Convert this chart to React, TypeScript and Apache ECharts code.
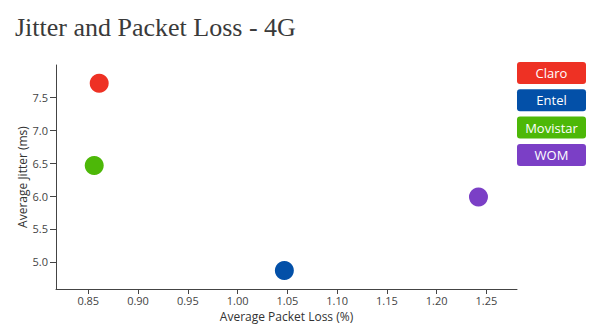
import React, { useEffect, useRef } from "react";
import * as echarts from "echarts";

const operators = ["Claro", "Entel", "Movistar", "WOM"];
const packetLoss = [0.861, 1.047, 0.856, 1.242];
const jitter = [7.72, 4.868, 6.465, 5.985];
const colors = ["#ee3124", "#0350a8", "#4db808", "#7b3fc6"];
const xTicks = [0.85, 0.9, 0.95, 1.0, 1.05, 1.1, 1.15, 1.2, 1.25];
const yTicks = [5.0, 5.5, 6.0, 6.5, 7.0, 7.5];

const FONT = "'Open Sans', Lato, sans-serif";

export default function App() {
  const ref = useRef<HTMLDivElement>(null);
  useEffect(() => {
    if (!ref.current) return;
    const chart = echarts.init(ref.current, null, { renderer: "svg" });
    const legendLeft = 517;
    const legendTop = 62;
    const legendStep = 27.3;
    const legend = operators.map((name, i) => ({
      type: "group",
      left: legendLeft,
      top: legendTop + i * legendStep,
      children: [
        {
          type: "rect",
          shape: { x: 0, y: 0, width: 69, height: 22, r: 3 },
          style: { fill: colors[i] },
        },
        {
          type: "text",
          x: 34.5,
          y: 11,
          style: {
            text: name,
            fill: "#fff",
            font: `13px ${FONT}`,
            align: "center",
            verticalAlign: "middle",
          },
        },
      ],
    }));
    chart.setOption({
      animation: false,
      title: {
        text: "Jitter and Packet Loss - 4G",
        left: 10,
        top: 9,
        textStyle: {
          fontFamily: "'Liberation Serif', serif",
          fontSize: 26,
          fontWeight: "normal",
          color: "#3a3a3a",
        },
      },
      grid: { left: 56, right: 83, top: 65, bottom: 44 },
      xAxis: {
        type: "value",
        min: 0.8176,
        max: 1.2807,
        name: "Average Packet Loss (%)",
        nameLocation: "middle",
        nameGap: 21,
        nameMoveOverlap: false,
        nameTextStyle: { fontFamily: FONT, fontSize: 12, color: "#333" },
        splitLine: { show: false },
        axisLine: { show: true, lineStyle: { color: "#444", width: 1 } },
        axisTick: { show: true, customValues: xTicks, length: 5, lineStyle: { color: "#444" } },
        axisLabel: {
          customValues: xTicks,
          formatter: (v: number) => v.toFixed(2),
          fontFamily: FONT,
          fontSize: 11,
          color: "#444",
          margin: 6,
        },
      },
      yAxis: {
        type: "value",
        min: 4.585,
        max: 7.997,
        name: "Average Jitter (ms)",
        nameLocation: "middle",
        nameRotate: 90,
        nameGap: 28,
        nameMoveOverlap: false,
        nameTextStyle: { fontFamily: FONT, fontSize: 12, color: "#333" },
        splitLine: { show: false },
        axisLine: { show: true, lineStyle: { color: "#444", width: 1 } },
        axisTick: { show: true, customValues: yTicks, length: 6, lineStyle: { color: "#444" } },
        axisLabel: {
          customValues: yTicks,
          formatter: (v: number) => v.toFixed(1),
          fontFamily: FONT,
          fontSize: 11,
          color: "#444",
          margin: 8,
        },
      },
      series: operators.map((name, i) => ({
        name,
        type: "scatter",
        symbol: "circle",
        symbolSize: 19,
        itemStyle: { color: colors[i], opacity: 1 },
        data: [[packetLoss[i], jitter[i]]],
      })),
      graphic: legend,
    });
    return () => chart.dispose();
  }, []);
  return <div ref={ref} style={{ width: 600, height: 333, position: "absolute", left: 0, top: 0 }} />;
}
